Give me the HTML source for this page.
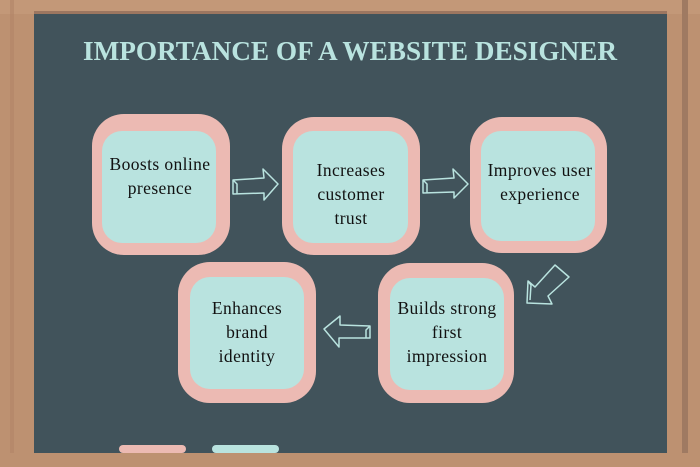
<!DOCTYPE html>
<html><head><meta charset="utf-8"><style>
html,body{margin:0;padding:0;width:700px;height:467px;overflow:hidden;background:#bd9171}
svg{display:block}
text{font-family:"Liberation Serif","DejaVu Serif",serif}
</style></head><body>
<svg width="700" height="467" viewBox="0 0 700 467">
<rect x="0" y="0" width="700" height="467" fill="#bd9171"/>
<rect x="0" y="0" width="700" height="14" fill="#c39878"/>
<rect x="34" y="11" width="633" height="3" fill="#9c7660"/>
<rect x="10" y="0" width="4" height="467" fill="#b08467" opacity=".6"/>
<rect x="682" y="0" width="6" height="467" fill="#9f7a62"/>
<rect x="34" y="14" width="633" height="439" fill="#41535b"/>
<text x="83" y="60" textLength="534" lengthAdjust="spacingAndGlyphs" font-size="27" font-weight="bold" fill="#b9e3df">IMPORTANCE OF A WEBSITE DESIGNER</text>
<g fill="#ecbab3">
<rect x="92" y="114" width="138" height="141" rx="32"/>
<rect x="282" y="117" width="138" height="138" rx="32"/>
<rect x="470" y="117" width="137" height="136" rx="32"/>
<rect x="378" y="263" width="136" height="140" rx="32"/>
<rect x="178" y="262" width="138" height="141" rx="32"/>
</g>
<g fill="#b9e3df">
<rect x="102" y="131" width="114" height="112" rx="20"/>
<rect x="293" y="131" width="115" height="112" rx="20"/>
<rect x="481" y="131" width="114" height="110" rx="20"/>
<rect x="390" y="278" width="114" height="112" rx="20"/>
<rect x="190" y="277" width="114" height="112" rx="20"/>
</g>
<g font-size="17.5" fill="#111" text-anchor="middle" letter-spacing="0.4">
<text x="160" y="170">Boosts online</text><text x="160" y="194">presence</text>
<text x="351" y="176">Increases</text><text x="351" y="200">customer</text><text x="351" y="224">trust</text>
<text x="540" y="176">Improves user</text><text x="540" y="200">experience</text>
<text x="447" y="314">Builds strong</text><text x="447" y="338">first</text><text x="447" y="362">impression</text>
<text x="247" y="314">Enhances</text><text x="247" y="338">brand</text><text x="247" y="362">identity</text>
</g>
<g fill="none" stroke="#b9e3df" stroke-width="1.5" stroke-linejoin="round">
<path d="M233 180 L264 178 L263 169 L278 184 L264 200 L264 193 L233 194 Z"/>
<path d="M233 180 L237 184 L237 194"/>
<path d="M423 180 L454 178 L453 169 L468 184 L454 198 L454 192 L423 193 Z"/>
<path d="M423 180 L427 184 L427 193"/>
<path d="M555 265 L569 277 L548 296 L552 304 L527 303 L528 281 L535 287 Z"/>
<path d="M528 281 L531 285 L530 300"/>
<path d="M370 326 L340 325 L340 316 L324 329 L339 347 L339 338 L370 338 Z"/>
<path d="M370 326 L366 330 L366 338"/>
</g>
<rect x="119" y="445" width="67" height="8" rx="4" fill="#ecbab3"/>
<rect x="212" y="445" width="67" height="8" rx="4" fill="#b9e3df"/>
<rect x="0" y="453" width="700" height="14" fill="#bd9171"/>
</svg>
</body></html>
